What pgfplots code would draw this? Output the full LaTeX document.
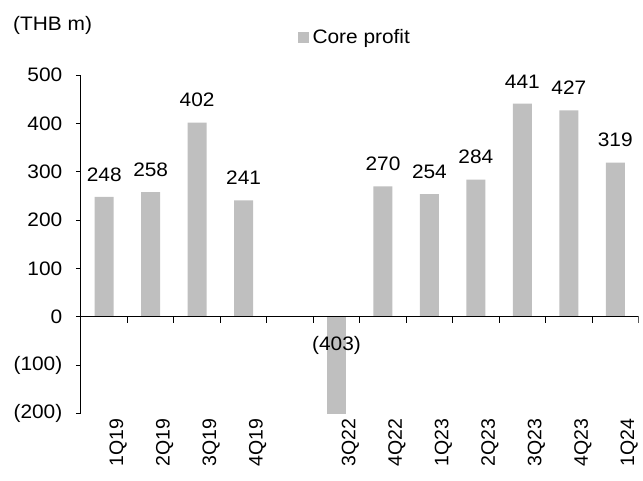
\documentclass[border=0pt]{standalone}
\usepackage{fontspec}
\setmainfont{Liberation Sans}[FakeStretch=1.07]
\newfontfamily\ticklabelfont{Liberation Sans}
\usepackage{pgfplots}
\pgfplotsset{compat=1.18}
\definecolor{barfill}{RGB}{191,191,191}

\begin{document}
\fontsize{19.5}{23}\selectfont
\begin{tikzpicture}
\begin{axis}[
    scale only axis,
    width=557.5pt, height=338.1pt,
    xmin=0.5, xmax=12.5,
    ymin=-200, ymax=500,
    ybar, bar width=19pt, bar shift=0pt,
    axis y line*=left,
    axis x line*=bottom,
    x axis line style={draw=none},
    y axis line style={draw=none},
    xtick={1,2,3,4,6,7,8,9,10,11,12},
    xticklabels={1Q19,2Q19,3Q19,4Q19,3Q22,4Q22,1Q23,2Q23,3Q23,4Q23,1Q24},
    x tick style={draw=none},
    xticklabel style={font=\fontsize{19.5}{23}\ticklabelfont, rotate=90, anchor=east, inner sep=0pt, yshift=-14pt},
    ytick={-200,-100,0,100,200,300,400,500},
    yticklabels={(200),(100),0\hspace{5pt},100\hspace{5pt},200\hspace{5pt},300\hspace{5pt},400\hspace{5pt},500\hspace{5pt}},
    tick align=outside,
    major tick length=5pt,
    y tick style={black, line width=1pt},
    yticklabel style={inner sep=0pt, anchor=east, xshift=-13.5pt},
    /pgf/number format/assume math mode=true,
    legend style={draw=none, fill=none, inner sep=0pt, nodes={inner sep=0pt},
        at={(axis description cs:0.388,1)}, anchor=west, yshift=37.5pt,
        /tikz/every odd column/.append style={column sep=4pt}},
    legend image code/.code={\fill[barfill] (0pt,-5.5pt) rectangle (11pt,5.5pt);},
]
\addplot[fill=barfill, draw=none,
    nodes near coords,
    every node near coord/.append style={inner sep=0pt, yshift=15.5pt, text=black}]
coordinates {
    (1,248) (2,258) (3,402) (4,241)
    (7,270) (8,254) (9,284) (10,441) (11,427) (12,319)
};
\addlegendentry{Core profit}
\addplot[fill=barfill, draw=none, forget plot]
coordinates {(6,-403)};

\draw[line width=1pt] (axis cs:0.5,0) -- (axis cs:12.5,0);
\pgfplotsinvokeforeach{1.5,2.5,3.5,4.5,5.5,6.5,7.5,8.5,9.5,10.5,11.5,12.5}{
    \draw[line width=1pt] (axis cs:#1,0) -- ++(0pt,-6pt);
}
\node[anchor=base, inner sep=0pt] at (axis cs:6,-70.4) {(403)};
\coordinate (tl) at (rel axis cs:0,1);
\coordinate (bl) at (rel axis cs:0,0);
\end{axis}
\draw[line width=1pt] (bl) -- (tl);
\node[anchor=base west, inner sep=0pt] at ([xshift=-68pt, yshift=45.2pt]tl) {(THB m)};
\pgfresetboundingbox
\path[use as bounding box] ([xshift=-81pt, yshift=-66.7pt]bl) rectangle ++(643pt,480pt);
\end{tikzpicture}
\end{document}
